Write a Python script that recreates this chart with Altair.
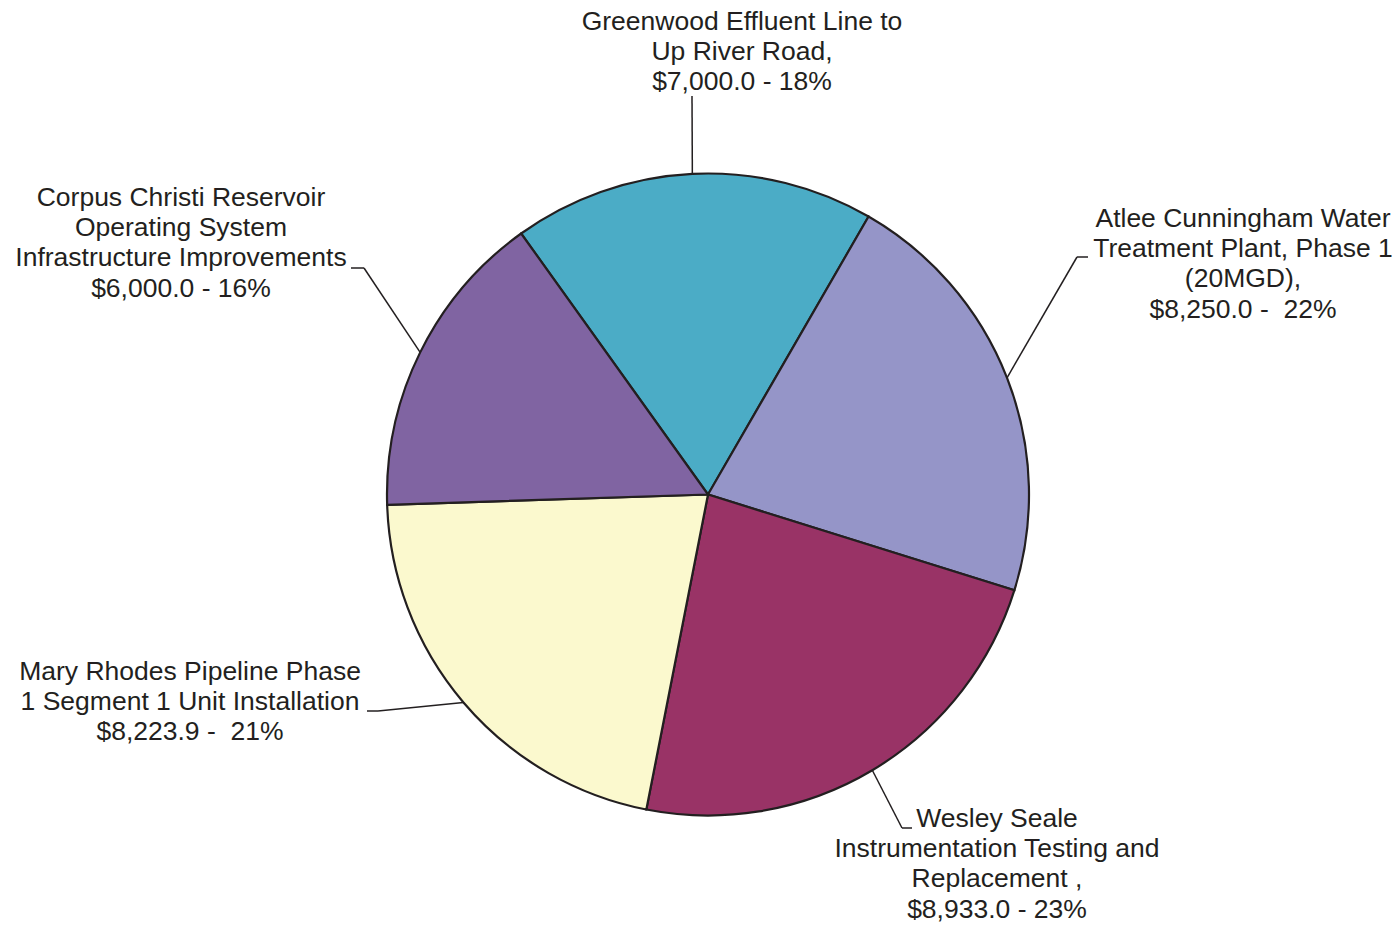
import math
import altair as alt
import pandas as pd

# ---- data ----
names = [
    "Greenwood Effluent Line to Up River Road",
    "Atlee Cunningham Water Treatment Plant, Phase 1 (20MGD)",
    "Wesley Seale Instrumentation Testing and Replacement",
    "Mary Rhodes Pipeline Phase 1 Segment 1 Unit Installation",
    "Corpus Christi Reservoir Operating System Infrastructure Improvements",
]
values = [7000.0, 8250.0, 8933.0, 8223.9, 6000.0]
label_texts = [
    "Greenwood Effluent Line to\nUp River Road,\n$7,000.0 - 18%",
    "Atlee Cunningham Water\nTreatment Plant, Phase 1\n(20MGD),\n$8,250.0 -\u00a0 22%",
    "Wesley Seale\nInstrumentation Testing and\nReplacement ,\n$8,933.0 - 23%",
    "Mary Rhodes Pipeline Phase\n1 Segment 1 Unit Installation\n$8,223.9 -\u00a0 21%",
    "Corpus Christi Reservoir\nOperating System\nInfrastructure Improvements\n$6,000.0 - 16%",
]
colors = ["#4BACC6", "#9595C8", "#993366", "#FBF9CE", "#8064A2"]

# ---- layout ----
CX, CY, R = 708.0, 494.5, 321.0
START_DEG = -35.6
label_xy = [(742, 30), (1243, 227), (997, 827), (190, 680), (181, 206)]
elbows = [(692, 96), (1077, 257), (902, 828), (378, 711), (364, 268)]
tick_end_x = [692, 1088, 912, 367, 351]
TEXT_COLOR = "#231F20"
FONT = "Liberation Sans"

total = sum(values)
rows = []
cum = 0.0
for i, (n, v) in enumerate(zip(names, values)):
    mid = math.radians(START_DEG + (cum + v / 2) / total * 360.0)
    cum += v
    ex = CX + R * math.sin(mid)
    ey = CY - R * math.cos(mid)
    rows.append({
        "name": n, "value": v, "order": i, "label": label_texts[i],
        "ex": ex, "ey": ey, "kx": elbows[i][0], "ky": elbows[i][1],
        "tx": tick_end_x[i], "lx": label_xy[i][0], "ly": label_xy[i][1],
    })
df = pd.DataFrame(rows)

W, H = 1384, 914
xs = alt.Scale(domain=[8, 8 + W], nice=False, zero=False)
ys = alt.Scale(domain=[8, 8 + H], nice=False, zero=False, reverse=True)

a0 = math.radians(START_DEG % 360)
base = alt.Chart(df)

pie = base.mark_arc(outerRadius=R, stroke=TEXT_COLOR, strokeWidth=2.2).encode(
    theta=alt.Theta("value:Q", stack=True, scale=alt.Scale(range=[a0, a0 + 2 * math.pi])),
    order=alt.Order("order:Q"),
    color=alt.Color("name:N", scale=alt.Scale(domain=names, range=colors), legend=None),
    x=alt.value(CX - 8),
    y=alt.value(CY - 8),
)

lead = base.mark_rule(color=TEXT_COLOR, strokeWidth=1.5).encode(
    x=alt.X("ex:Q", scale=xs, axis=None),
    y=alt.Y("ey:Q", scale=ys, axis=None),
    x2="kx:Q",
    y2="ky:Q",
)
tick = base.mark_rule(color=TEXT_COLOR, strokeWidth=1.5).encode(
    x=alt.X("kx:Q", scale=xs, axis=None),
    y=alt.Y("ky:Q", scale=ys, axis=None),
    x2="tx:Q",
    y2="ky:Q",
)
labels = base.mark_text(
    lineBreak="\n", align="center", baseline="alphabetic",
    font=FONT, fontSize=26.5, lineHeight=30.2, color=TEXT_COLOR,
).encode(
    x=alt.X("lx:Q", scale=xs, axis=None),
    y=alt.Y("ly:Q", scale=ys, axis=None),
    text="label:N",
)

chart = alt.layer(pie, lead, tick, labels).properties(
    width=W, height=H, autosize="none", padding=0
).configure_view(stroke=None)

chart.save("out.html", embed_options={"renderer": "svg", "actions": False})
